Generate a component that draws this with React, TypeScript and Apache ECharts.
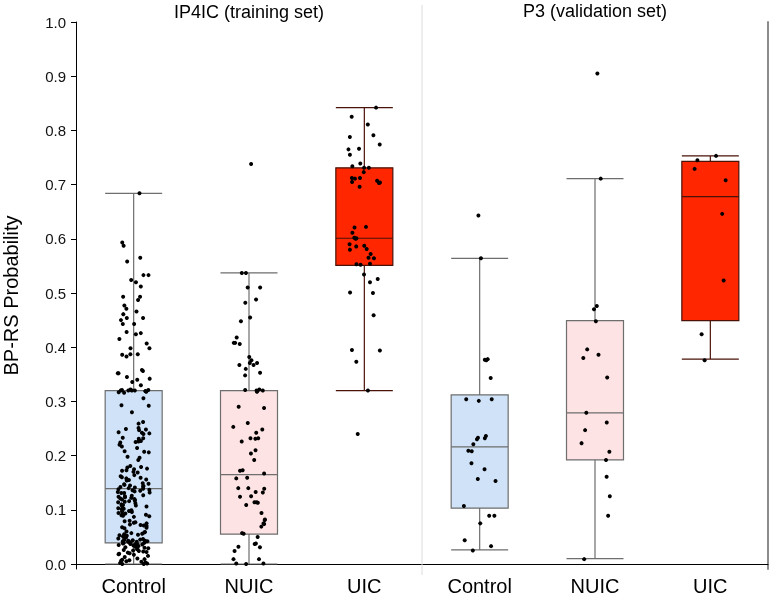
import React, { useEffect, useRef } from "react";
import * as echarts from "echarts";

const categories = ["Control", "NUIC", "UIC", "Control", "NUIC", "UIC"];
const panelTitles = ["IP4IC (training set)", "P3 (validation set)"];
const yTicks = [0, 0.1, 0.2, 0.3, 0.4, 0.5, 0.6, 0.7, 0.8, 0.9, 1.0];
const yAxisName = "BP-RS Probability";

// [min, Q1, median, Q3, max]
const trainControlBox = [0.0, 0.039, 0.139, 0.32, 0.684];
const trainNuicBox = [0.0, 0.055, 0.165, 0.32, 0.537];
const trainUicBox = [0.32, 0.551, 0.601, 0.731, 0.842];
const valControlBox = [0.026, 0.103, 0.216, 0.312, 0.564];
const valNuicBox = [0.01, 0.192, 0.279, 0.449, 0.711];
const valUicBox = [0.378, 0.449, 0.678, 0.743, 0.753];

const trainControlPts = [
  0.684, 0.593, 0.587, 0.565, 0.558, 0.533, 0.533, 0.524, 0.52, 0.512, 0.493, 0.493, 0.487, 0.477,
  0.471, 0.466, 0.461, 0.454, 0.454, 0.45, 0.443, 0.443, 0.428, 0.426, 0.424, 0.415, 0.407, 0.398,
  0.398, 0.387, 0.387, 0.386, 0.383, 0.358, 0.356, 0.352, 0.352, 0.345, 0.342, 0.34, 0.336, 0.33,
  0.322, 0.321, 0.321, 0.32, 0.32, 0.32, 0.32, 0.319, 0.319, 0.318, 0.317, 0.316,
  0.306, 0.293, 0.292, 0.28, 0.262, 0.259, 0.251, 0.249, 0.248, 0.247, 0.243, 0.242, 0.241, 0.24,
  0.233, 0.232, 0.231, 0.227, 0.226, 0.225, 0.224, 0.22, 0.217, 0.214, 0.208, 0.207, 0.206, 0.198,
  0.196, 0.192, 0.181, 0.179, 0.178, 0.176, 0.175, 0.173, 0.172, 0.17, 0.169,
  0.164, 0.162, 0.16, 0.159, 0.158, 0.156, 0.155, 0.154,
  0.149, 0.148, 0.147, 0.146, 0.145, 0.144, 0.143, 0.142, 0.141, 0.14, 0.139, 0.138, 0.137, 0.136,
  0.135, 0.134, 0.133, 0.132, 0.131, 0.131,
  0.127, 0.126, 0.125, 0.124, 0.123, 0.122, 0.121, 0.12, 0.119, 0.118, 0.117, 0.116, 0.115, 0.114,
  0.112, 0.11, 0.109, 0.108, 0.107, 0.106,
  0.103, 0.102, 0.101, 0.099, 0.098, 0.097, 0.096, 0.094, 0.093, 0.092, 0.091, 0.09, 0.089, 0.088, 0.087,
  0.08, 0.079, 0.077, 0.076, 0.075, 0.073, 0.072, 0.071, 0.07, 0.068, 0.067, 0.066,
  0.06, 0.059, 0.058, 0.057, 0.056, 0.055, 0.054, 0.053, 0.052, 0.051, 0.05, 0.049, 0.048, 0.047, 0.046,
  0.045, 0.044, 0.044, 0.043, 0.043, 0.042, 0.042, 0.041, 0.041, 0.04, 0.04, 0.039, 0.039, 0.038,
  0.038, 0.037, 0.037, 0.036, 0.036, 0.035, 0.034, 0.033, 0.032, 0.031, 0.03,
  0.029, 0.028, 0.027, 0.026, 0.025, 0.024, 0.023, 0.022, 0.021, 0.02, 0.019, 0.018, 0.017, 0.015, 0.013,
  0.01, 0.009, 0.008, 0.007, 0.006, 0.005, 0.004, 0.003, 0.002, 0.001, 0.0, 0.0,
];

const trainNuicPts = [
  0.738, 0.537, 0.537, 0.51, 0.51, 0.488, 0.482, 0.455, 0.448, 0.418, 0.408, 0.408, 0.406, 0.382,
  0.376, 0.371, 0.371, 0.367, 0.367, 0.36, 0.353, 0.348,
  0.322, 0.321, 0.32, 0.32, 0.319, 0.318, 0.29, 0.288, 0.26, 0.253, 0.248, 0.242,
  0.232, 0.232, 0.231, 0.226, 0.21, 0.204, 0.192, 0.173, 0.172, 0.167, 0.159, 0.158,
  0.14, 0.14, 0.139, 0.133, 0.132, 0.125, 0.124, 0.114, 0.114, 0.113, 0.109, 0.094,
  0.082, 0.081, 0.075, 0.074, 0.069, 0.057, 0.056, 0.05, 0.038, 0.037, 0.032, 0.031, 0.024,
  0.009, 0.009, 0.001, 0.001, 0.0,
];

const trainUicPts = [
  0.842, 0.825, 0.811, 0.791, 0.788, 0.774, 0.766, 0.765, 0.755, 0.739, 0.734, 0.731, 0.731,
  0.723, 0.712, 0.712, 0.711, 0.707, 0.705, 0.704, 0.703, 0.696,
  0.622, 0.621, 0.611, 0.602, 0.601, 0.6, 0.59, 0.587, 0.586, 0.581, 0.58, 0.572, 0.565, 0.564,
  0.554, 0.553, 0.552, 0.534, 0.526, 0.52, 0.501, 0.5, 0.459, 0.395, 0.394, 0.373, 0.32, 0.24,
];

const valControlPts = [
  0.643, 0.564, 0.378, 0.377, 0.376, 0.343, 0.304, 0.304, 0.301, 0.236, 0.233, 0.232, 0.23,
  0.221, 0.208, 0.209, 0.186, 0.175, 0.157, 0.153, 0.107, 0.089, 0.089, 0.075, 0.044, 0.033, 0.025,
];

const valNuicPts = [
  0.905, 0.711, 0.476, 0.47, 0.448, 0.396, 0.386, 0.38, 0.344, 0.279, 0.261, 0.247, 0.223,
  0.207, 0.192, 0.161, 0.125, 0.089, 0.009,
];

const valUicPts = [0.753, 0.745, 0.729, 0.708, 0.646, 0.523, 0.424, 0.376];

const fillColors = ["#cfe2f7", "#fde3e3", "#ff2600", "#cfe2f7", "#fde3e3", "#ff2600"];
const borderColors = ["#6e6e6e", "#6e6e6e", "#4a1208", "#6e6e6e", "#6e6e6e", "#4a1208"];

export default function App() {
  const ref = useRef<HTMLDivElement>(null);
  useEffect(() => {
    if (!ref.current) return;
    const chart = echarts.init(ref.current, null, { renderer: "svg" });
    const boxes = [trainControlBox, trainNuicBox, trainUicBox, valControlBox, valNuicBox, valUicBox];
    const pts = [trainControlPts, trainNuicPts, trainUicPts, valControlPts, valNuicPts, valUicPts];
    const scatterData: number[][] = [];
    pts.forEach((arr, i) => arr.forEach((v) => scatterData.push([i, v])));
    const font = "Liberation Sans, Arial, Helvetica, sans-serif";
    chart.setOption({
      animation: false,
      grid: {
        left: 76,
        right: 1,
        top: 22,
        bottom: 28,
        containLabel: false,
        outerBoundsMode: "none",
      },
      xAxis: {
        type: "category",
        data: categories,
        jitter: 32,
        axisLine: { lineStyle: { color: "#000", width: 1 } },
        axisTick: { show: false },
        axisLabel: { color: "#000", fontSize: 20, fontFamily: font, margin: 7, interval: 0 },
        splitLine: { show: false },
      },
      yAxis: [
        {
          type: "value",
          min: -0.0092,
          max: 1.0,
          name: yAxisName,
          nameLocation: "middle",
          nameGap: 55,
          nameTextStyle: { fontSize: 20, color: "#000", fontFamily: font },
          axisLine: { show: true, lineStyle: { color: "#000", width: 1 } },
          axisTick: { show: true, length: 5, lineStyle: { color: "#000" }, customValues: yTicks },
          axisLabel: {
            color: "#111",
            fontSize: 15,
            fontFamily: font,
            margin: 10,
            customValues: yTicks,
            formatter: (v: number) => v.toFixed(1),
          },
          splitLine: { show: false },
        },
        {
          type: "value",
          position: "right",
          min: -0.0092,
          max: 1.0,
          axisLine: { show: true, lineStyle: { color: "#8c8c8c", width: 2 } },
          axisTick: { show: false },
          axisLabel: { show: false },
          splitLine: { show: false },
        },
      ],
      series: [
        {
          type: "boxplot",
          boxWidth: [57, 57],
          data: boxes.map((b, i) => ({
            value: b,
            itemStyle: { color: fillColors[i], borderColor: borderColors[i], borderWidth: 1.2 },
          })),
          z: 2,
        },
        {
          type: "scatter",
          data: scatterData,
          symbolSize: 4,
          itemStyle: { color: "#000", opacity: 1 },
          z: 3,
        },
      ],
    });
    const px = (i: number) => chart.convertToPixel({ xAxisIndex: 0 }, i) as number;
    const divX = (px(2) + px(3)) / 2;
    const leftCenter = px(1);
    const rightCenter = px(4);
    chart.setOption({
      graphic: [
        {
          type: "line",
          shape: { x1: divX, y1: 5, x2: divX, y2: 575 },
          style: { stroke: "#dcdcdc", lineWidth: 1 },
          z: 1,
        },
        {
          type: "text",
          x: leftCenter,
          y: 12,
          style: {
            text: panelTitles[0],
            fontSize: 18,
            fontFamily: font,
            fill: "#000",
            textAlign: "center",
            textVerticalAlign: "middle",
          },
        },
        {
          type: "text",
          x: rightCenter,
          y: 11,
          style: {
            text: panelTitles[1],
            fontSize: 18,
            fontFamily: font,
            fill: "#000",
            textAlign: "center",
            textVerticalAlign: "middle",
          },
        },
      ],
    });
    return () => chart.dispose();
  }, []);
  return <div ref={ref} style={{ width: 769, height: 597, position: "fixed", left: 0, top: 0 }} />;
}
